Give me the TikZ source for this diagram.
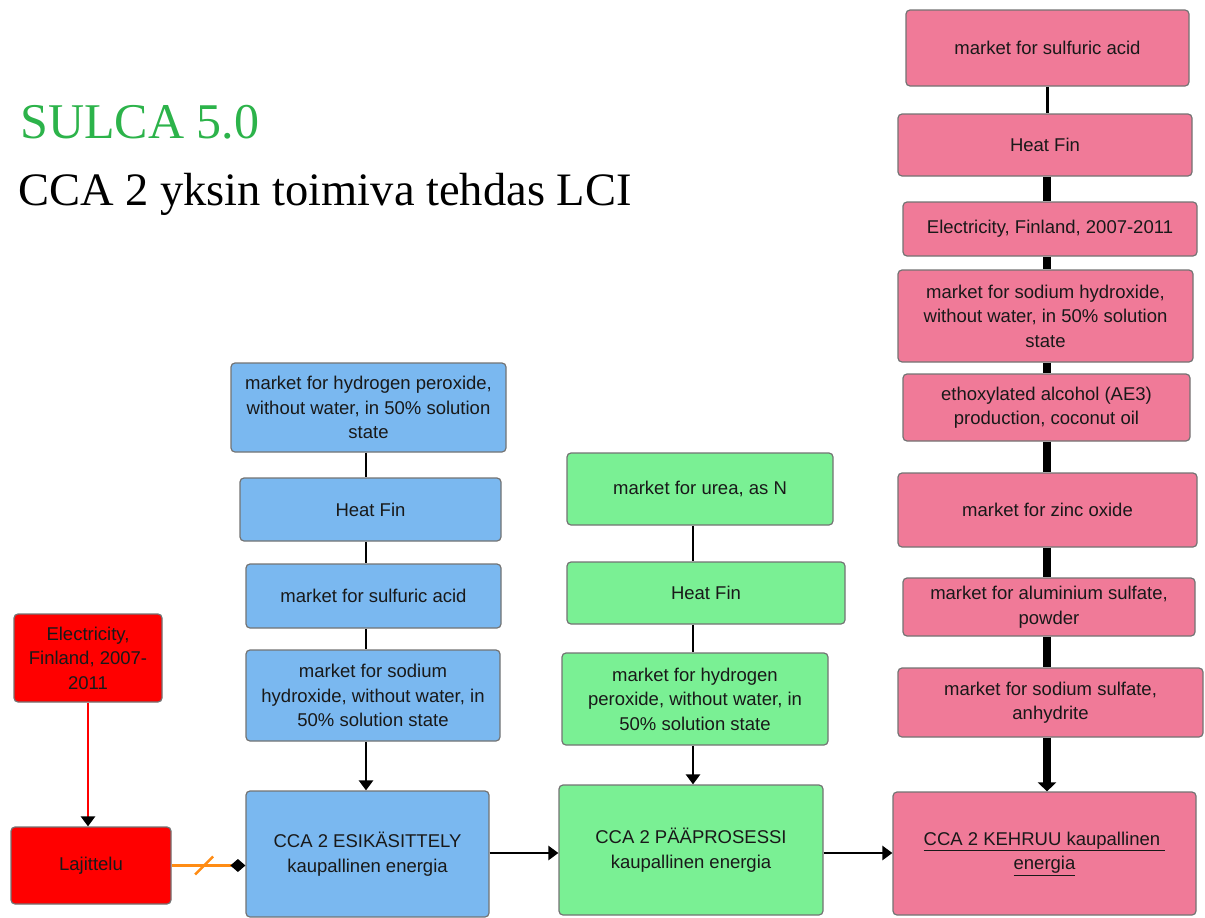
\documentclass[tikz,border=0pt]{standalone}
\usepackage{fontspec}
\setmainfont{Liberation Sans}
\newfontfamily\titlefont{Liberation Serif}
\usetikzlibrary{arrows.meta,calc}
\definecolor{boxblue}{RGB}{122,184,240}
\definecolor{boxgreen}{RGB}{122,240,148}
\definecolor{boxpink}{RGB}{240,122,152}
\definecolor{boxred}{RGB}{255,0,0}
\definecolor{titlegreen}{RGB}{44,179,74}
\definecolor{linkorange}{RGB}{255,140,20}
\tikzset{
	procnode/.style = {shape=rectangle, rounded corners=4pt,
		draw=black!55, line width=1.2pt, align=center, inner sep=0pt,
		font=\fontsize{18.5}{24.5}\selectfont, text=black!90},
	bluenode/.style  = {procnode, fill=boxblue},
	greennode/.style = {procnode, fill=boxgreen},
	pinknode/.style  = {procnode, fill=boxpink},
	rednode/.style   = {procnode, fill=boxred},
	heading/.style   = {anchor=base west, inner sep=0pt},
	link/.style      = {draw, line width=2.5pt},
	feed/.style      = {link, -{Triangle[width=14pt,length=10pt]}},
	heavylink/.style = {draw, line width=7.5pt}
}
\begin{document}
\begin{tikzpicture}
	[
	x = 1pt,
	y = -1pt
	]
	\useasboundingbox (0,0) rectangle (1205,918);
	\node [heading, text=titlegreen, font=\titlefont\fontsize{50}{60}\selectfont] (title) at (20,138)
		{SULCA 5.0};
	\node [heading, text=black, font=\titlefont\fontsize{46.5}{56}\selectfont] (subtitle) at (18,205)
		{CCA 2 yksin toimiva tehdas LCI};

	\node [rednode, minimum width=148pt, minimum height=88pt] (elec) at (88,658)
		{Electricity,\\Finland, 2007-\\2011};
	\node [rednode, minimum width=160pt, minimum height=77pt] (lajit) at (91,865.5)
		{Lajittelu};

	\node [bluenode, minimum width=275pt, minimum height=89pt] (bH2O2) at (368.5,407.5)
		{market for hydrogen peroxide,\\without water, in 50\% solution\\state};
	\node [bluenode, minimum width=261pt, minimum height=63pt] (bHeat) at (370.5,509.5)
		{Heat Fin};
	\node [bluenode, minimum width=255pt, minimum height=64pt] (bSulf) at (373.5,596)
		{market for sulfuric acid};
	\node [bluenode, minimum width=254pt, minimum height=91pt] (bNaOH) at (373,695.5)
		{market for sodium\\hydroxide, without water, in\\50\% solution state};
	\node [bluenode, minimum width=243pt, minimum height=126pt] (esik) at (367.5,854)
		{CCA 2 ESIKÄSITTELY\\kaupallinen energia};

	\node [greennode, minimum width=266pt, minimum height=72pt] (gUrea) at (700,489)
		{market for urea, as N};
	\node [greennode, minimum width=278pt, minimum height=62pt] (gHeat) at (706,593)
		{Heat Fin};
	\node [greennode, minimum width=266pt, minimum height=92pt] (gH2O2) at (695,699)
		{market for hydrogen\\peroxide, without water, in\\50\% solution state};
	\node [greennode, minimum width=264pt, minimum height=130pt] (paap) at (691,850)
		{CCA 2 PÄÄPROSESSI\\kaupallinen energia};

	\node [pinknode, minimum width=283pt, minimum height=76pt] (pSulf) at (1047.5,48)
		{market for sulfuric acid};
	\node [pinknode, minimum width=294pt, minimum height=62pt] (pHeat) at (1045,145)
		{Heat Fin};
	\node [pinknode, minimum width=294pt, minimum height=54pt] (pElec) at (1050,229)
		{Electricity, Finland, 2007-2011};
	\node [pinknode, minimum width=295pt, minimum height=92pt] (pNaOH) at (1045.5,316)
		{market for sodium hydroxide,\\without water, in 50\% solution\\state};
	\node [pinknode, minimum width=287pt, minimum height=67pt] (pAE3) at (1046.5,407.5)
		{ethoxylated alcohol (AE3)\\production, coconut oil};
	\node [pinknode, minimum width=299pt, minimum height=74pt] (pZnO) at (1047.5,510)
		{market for zinc oxide};
	\node [pinknode, minimum width=292pt, minimum height=58pt] (pAlSulf) at (1049,607)
		{market for aluminium sulfate,\\powder};
	\node [pinknode, minimum width=305pt, minimum height=69pt] (pNaSulf) at (1050.5,702.5)
		{market for sodium sulfate,\\anhydrite};
	\node [pinknode, minimum width=303pt, minimum height=123pt] (kehruu) at (1044.5,853.5)
		{\underline{CCA 2 KEHRUU kaupallinen\ }\\\underline{energia}};

	\coordinate (bcol) at (366,0);
	\coordinate (gcol) at (693,0);
	\coordinate (pcol) at (1047,0);
	\coordinate (hrow) at (0,853);

	\draw [link, boxred, -{Triangle[color=black,width=14pt,length=10pt]}]
		(elec.south) -- (elec.south |- lajit.north);
	\draw [link, linkorange, -{Diamond[color=black,width=13pt,length=15pt]}]
		(lajit.east) -- (lajit.east -| esik.west);
	\draw [link, linkorange]
		($(lajit.east)!0.44!(lajit.east -| esik.west)$) +(-9,9) -- +(9,-9);

	\foreach \a/\b in {bH2O2/bHeat, bHeat/bSulf, bSulf/bNaOH}
		\draw [link] (\a.south -| bcol) -- (\b.north -| bcol);
	\draw [feed] (bNaOH.south -| bcol) -- (esik.north -| bcol);

	\foreach \a/\b in {gUrea/gHeat, gHeat/gH2O2}
		\draw [link] (\a.south -| gcol) -- (\b.north -| gcol);
	\draw [feed] (gH2O2.south -| gcol) -- (paap.north -| gcol);

	\draw [draw, line width=3pt] (pSulf.south -| pcol) -- (pHeat.north -| pcol);
	\foreach \a/\b in {pHeat/pElec, pElec/pNaOH, pNaOH/pAE3, pAE3/pZnO, pZnO/pAlSulf, pAlSulf/pNaSulf}
		\draw [heavylink] (\a.south -| pcol) -- (\b.north -| pcol);
	\draw [heavylink, -{Triangle[width=18pt,length=9pt]}]
		(pNaSulf.south -| pcol) -- (kehruu.north -| pcol);

	\draw [feed] (esik.east |- hrow) -- (paap.west |- hrow);
	\draw [feed] (paap.east |- hrow) -- (kehruu.west |- hrow);
\end{tikzpicture}
\end{document}
